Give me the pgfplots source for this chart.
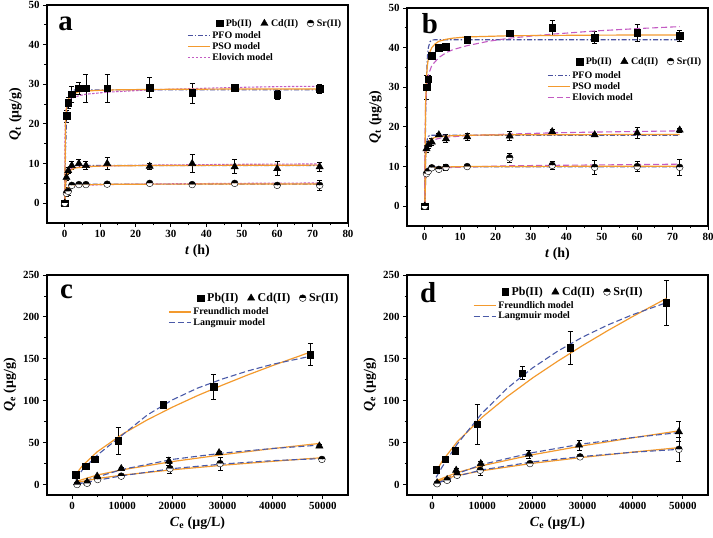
\documentclass[border=0pt]{standalone}
\usepackage{pgfplots}
\pgfplotsset{compat=1.18}
\usepackage{fontspec}
\setmainfont{Liberation Serif}
\usetikzlibrary{plotmarks}
\definecolor{pfo}{HTML}{4A52A0}
\definecolor{pso}{HTML}{F39A2E}
\definecolor{elo}{HTML}{C35BC3}
\definecolor{lang}{HTML}{4A5AA8}
\tikzset{plab/.style={font=\bfseries\fontsize{29}{29}\selectfont, inner sep=0pt}}
\pgfplotsset{
 base/.style={scale only axis, anchor=south west, width=301bp,
   axis line style={line width=1.1pt}, tick align=outside,
   xtick pos=bottom, ytick pos=left, minor tick num=1,
   major tick length=4bp, minor tick length=2.5bp,
   every tick/.style={black, line width=0.9pt},
   tick label style={font=\bfseries\fontsize{11}{11}\selectfont},
   /pgf/number format/assume math mode=true,
   /pgf/number format/1000 sep={}, scaled ticks=false,
   label style={font=\bfseries\fontsize{14}{14}\selectfont}},
 kin/.style={base, height=218bp, xmin=-5, xmax=80, ymin=-5, ymax=50,
   xtick={0,10,...,80}, ytick={0,10,...,50},
   xlabel={\textit{t} (h)}, ylabel={\textit{Q}\textsubscript{t} (μg/g)}},
 iso/.style={base, height=220bp, xmin=-5000, xmax=55000, ymin=-12.5, ymax=250,
   xtick={0,10000,...,50000}, ytick={0,50,...,250},
   xlabel={\textit{C}\textsubscript{e} (μg/L)}, ylabel={\textit{Q}\textsubscript{e} (μg/g)}},
 pts/.style={only marks, black, mark options={black, fill=black, solid},
   error bars/.cd, y dir=both, y explicit,
   error bar style={black, line width=0.7pt, solid},
   error mark options={rotate=90, black, mark size=2.5bp, line width=0.7pt}},
 pb/.style={mark=square*, mark size=3.3bp},
 cd/.style={mark=triangle*, mark size=4.2bp},
 sr/.style={mark=halfcircle*, mark size=3.4bp},
 cPFO/.style={pfo, line width=1.1pt, dash pattern=on 5bp off 2bp on 1.5bp off 2bp},
 cPSO/.style={pso, line width=1.2pt},
 cELOa/.style={elo, line width=1.1pt, dash pattern=on 2.5bp off 1.5bp},
 cELOb/.style={elo, line width=1.1pt, dash pattern=on 6bp off 3bp},
 cF/.style={pso, line width=1.2pt},
 cL/.style={lang, line width=1.1pt, dash pattern=on 6bp off 3bp},
 mleg/.style={legend columns=3, legend image code/.code={\draw[##1] plot coordinates {(3bp,0bp)};},
   legend style={draw=none, fill=none, inner sep=0pt,
     /tikz/every odd column/.append style={column sep=1bp},
     /tikz/every even column/.append style={column sep=7bp}}},
 lleg/.style={scale only axis, anchor=south west, width=301bp, hide axis,
   xmin=0, xmax=1, ymin=0, ymax=1, xtick=\empty, ytick=\empty,
   legend image code/.code={\draw[##1] (0bp,0bp)--(22bp,0bp);},
   legend cell align=left,
   legend style={draw=none, fill=none, inner sep=0pt, row sep=-1.5bp}}
}
\begin{document}
\begin{tikzpicture}
\path[use as bounding box] (0,0) rectangle (713bp,538bp);
% ================= a =================
\begin{axis}[kin, at={(47bp,315bp)}, mleg,
  legend style={at={(0.985,0.945)}, anchor=north east, font=\bfseries\fontsize{10}{10}\selectfont}]
\addlegendimage{only marks, black, pb}\addlegendentry{Pb(II)}
\addlegendimage{only marks, black, cd}\addlegendentry{Cd(II)}
\addlegendimage{only marks, black, sr}\addlegendentry{Sr(II)}
\addplot[forget plot, pb, pts] table[x=x,y=y,y error=e] {
x y e
0 0 0
0.5 22 1.5
1 25.3 1.5
2 27.5 2
4 29 1.5
6 29 3.5
12 29 3.5
24 29.2 2.5
36 27.8 2.5
48 29.2 0.8
60 27.3 1.2
72 28.9 1.2
};
\addplot[forget plot, cd, pts] table[x=x,y=y,y error=e] {
x y e
0 0 0
0.5 6.5 0.8
1 8.2 0.8
2 9.5 1
4 10 1
6 9.5 1
12 10 1.5
24 9.3 0.8
36 10 2.3
48 9.2 1.8
60 8.7 1.8
72 9.2 1.1
};
\addplot[forget plot, sr, pts] table[x=x,y=y,y error=e] {
x y e
0 0 0
0.5 2.5 0.8
1 3 1
2 4.5 0.5
4 4.7 0.4
6 4.7 0.4
12 4.8 0.4
24 5 0.4
36 4.7 0.4
48 5 0.5
60 4.5 0.6
72 4.5 1.2
};
% Pb curves
\addplot[forget plot, cPFO] coordinates {(0,0)(0.25,13.3)(0.5,20.4)(0.75,24.2)(1,26.3)(1.5,27.9)(2,28.4)(3,28.6)(10,28.6)(40,28.6)(72,28.6)};
\addplot[forget plot, cELOa] coordinates {(0,0)(0.1,18)(0.25,22.5)(0.5,24.4)(1,25.8)(2,26.5)(4,27.1)(6,27.5)(12,28.0)(24,28.6)(36,28.9)(48,29.2)(60,29.4)(72,29.5)};
\addplot[forget plot, cPSO] coordinates {(0,0)(0.25,20.6)(0.5,24)(1,26.2)(2,27.4)(4,28.1)(6,28.3)(12,28.56)(24,28.7)(48,28.8)(72,28.8)};
% Cd curves
\addplot[forget plot, cPFO] coordinates {(0,0)(0.25,3.7)(0.5,6.0)(0.75,7.4)(1,8.2)(1.5,9.0)(2,9.3)(3,9.5)(20,9.5)(72,9.5)};
\addplot[forget plot, cELOa] coordinates {(0,0)(0.1,4)(0.25,6)(0.5,7.5)(1,8.3)(2,8.8)(4,9.1)(6,9.2)(12,9.4)(24,9.6)(48,9.8)(72,9.9)};
\addplot[forget plot, cPSO] coordinates {(0,0)(0.25,4.8)(0.5,6.4)(0.75,7.2)(1,7.7)(1.5,8.2)(2,8.5)(3,8.9)(4,9.0)(6,9.2)(8,9.3)(12,9.4)(24,9.5)(72,9.6)};
% Sr curves
\addplot[forget plot, cPFO] coordinates {(0,0)(0.25,1.9)(0.5,3.0)(0.75,3.7)(1,4.15)(1.5,4.56)(2,4.71)(3,4.8)(20,4.8)(72,4.8)};
\addplot[forget plot, cELOa] coordinates {(0,0)(0.1,1.8)(0.25,2.8)(0.5,3.5)(1,3.9)(2,4.2)(4,4.4)(6,4.5)(12,4.7)(24,4.85)(48,5.0)(72,5.1)};
\addplot[forget plot, cPSO] coordinates {(0,0)(0.25,2.4)(0.5,3.2)(0.75,3.6)(1,3.9)(1.5,4.2)(2,4.3)(3,4.5)(4,4.55)(6,4.65)(12,4.75)(24,4.8)(72,4.85)};
\node[plab, anchor=base west] at (rel axis cs:0.037,0.885) {a};
\end{axis}
\begin{axis}[lleg, height=218bp, at={(47bp,315bp)},
  legend style={at={(0.465,0.888)}, anchor=north west, font=\bfseries\fontsize{10}{10}\selectfont}]
\addlegendimage{cPFO}\addlegendentry{PFO model}
\addlegendimage{cPSO}\addlegendentry{PSO model}
\addlegendimage{cELOa}\addlegendentry{Elovich model}
\end{axis}
% ================= b =================
\begin{axis}[kin, at={(407bp,312bp)}, mleg,
  legend style={at={(0.985,0.784)}, anchor=north east, font=\bfseries\fontsize{10}{10}\selectfont}]
\addlegendimage{only marks, black, pb}\addlegendentry{Pb(II)}
\addlegendimage{only marks, black, cd}\addlegendentry{Cd(II)}
\addlegendimage{only marks, black, sr}\addlegendentry{Sr(II)}
\addplot[forget plot, pb, pts] table[x=x,y=y,y error=e] {
x y e
0 0 0
0.5 30 3
1 32 1
2 38 0.5
4 40 0.5
6 40.2 0.5
12 42 0.8
24 43.6 0.8
36 45 2
48 42.5 1.5
60 43.8 2.2
72 43 1.3
};
\addplot[forget plot, cd, pts] table[x=x,y=y,y error=e] {
x y e
0 0 0
0.5 14.5 0.8
1 15.5 0.8
2 16.2 0.8
4 18 0.5
6 17 1
12 17.5 1
24 17.7 1.2
36 18.8 0.5
48 18 0.5
60 18.5 1.5
72 19.2 0.5
};
\addplot[forget plot, sr, pts] table[x=x,y=y,y error=e] {
x y e
0 0 0
0.5 8.2 0.5
1 8.8 0.5
2 9.7 0.5
4 9.3 0.5
6 9.8 0.7
12 10 0.5
24 12.2 1.2
36 10.3 1
48 9.8 1.8
60 10 1.2
72 9.8 2
};
\addplot[forget plot, cPFO] coordinates {(0,0)(0.25,22.2)(0.5,32.6)(0.75,37.6)(1,39.9)(1.5,41.5)(2,41.9)(3,42)(20,42)(72,42)};
\addplot[forget plot, cELOb] coordinates {(0,0)(0.1,18)(0.25,25)(0.5,29)(1,33)(2,35.5)(4,37.5)(6,38.7)(8,39.5)(12,40.5)(18,41.6)(24,42.4)(36,43.4)(48,44.2)(60,44.8)(72,45.3)};
\addplot[forget plot, cPSO] coordinates {(0,0)(0.25,26)(0.5,32.5)(0.75,35.4)(1,37.1)(1.5,39)(2,40)(3,41)(4,41.6)(6,42.1)(8,42.4)(12,42.7)(24,43.0)(48,43.15)(72,43.2)};
\addplot[forget plot, cPFO] coordinates {(0,0)(0.25,11.3)(0.5,15.5)(0.75,17)(1,17.6)(1.5,17.9)(20,17.9)(72,17.9)};
\addplot[forget plot, cELOb] coordinates {(0,0)(0.1,10)(0.25,13.5)(0.5,15)(1,16)(2,16.6)(4,17.1)(6,17.4)(12,17.8)(24,18.2)(36,18.5)(48,18.7)(60,18.85)(72,19)};
\addplot[forget plot, cPSO] coordinates {(0,0)(0.25,12.1)(0.5,14.5)(0.75,15.5)(1,16.1)(1.5,16.7)(2,17.0)(3,17.4)(4,17.55)(6,17.7)(12,17.9)(24,18.0)(72,18.1)};
\addplot[forget plot, cPFO] coordinates {(0,0)(0.25,6.3)(0.5,8.6)(0.75,9.4)(1,9.7)(1.5,9.9)(20,9.9)(72,9.9)};
\addplot[forget plot, cELOb] coordinates {(0,0)(0.1,5.5)(0.25,7.3)(0.5,8.2)(1,8.8)(2,9.2)(4,9.5)(6,9.7)(12,9.9)(24,10.2)(48,10.4)(72,10.6)};
\addplot[forget plot, cPSO] coordinates {(0,0)(0.25,6.7)(0.5,8.1)(0.75,8.7)(1,9.0)(1.5,9.3)(2,9.5)(3,9.7)(4,9.8)(6,9.9)(12,10.0)(72,10.1)};
\node[plab, anchor=base west] at (rel axis cs:0.049,0.885) {b};
\end{axis}
\begin{axis}[lleg, height=218bp, at={(407bp,312bp)},
  legend style={at={(0.465,0.718)}, anchor=north west, font=\bfseries\fontsize{10}{10}\selectfont}]
\addlegendimage{cPFO}\addlegendentry{PFO model}
\addlegendimage{cPSO}\addlegendentry{PSO model}
\addlegendimage{cELOb}\addlegendentry{Elovich model}
\end{axis}
% ================= c =================
\begin{axis}[iso, at={(47bp,43bp)}, mleg,
  legend style={at={(0.975,0.927)}, anchor=north east, font=\bfseries\fontsize{12}{12}\selectfont}]
\addlegendimage{only marks, black, pb}\addlegendentry{Pb(II)}
\addlegendimage{only marks, black, cd}\addlegendentry{Cd(II)}
\addlegendimage{only marks, black, sr}\addlegendentry{Sr(II)}
\addplot[forget plot, pb, pts] table[x=x,y=y,y error=e] {
x y e
700 12 1
2700 22 1.5
4500 30 1.5
9200 52 16
18200 95 2
28200 117 15
47500 155 13
};
\addplot[forget plot, cd, pts] table[x=x,y=y,y error=e] {
x y e
1000 2 0.8
3000 3 0.8
5000 10 1.5
9800 19 2
19300 28 5
29300 38 2
49300 46 2
};
\addplot[forget plot, sr, pts] table[x=x,y=y,y error=e] {
x y e
1000 0 0.5
3000 1.5 0.5
5100 6 1
9800 10 1.5
19500 19 6
29500 25 8
49800 30 2
};
\addplot[forget plot, cF] coordinates {(700,11.5)(2000,22.1)(5000,39)(10000,60)(15000,77.2)(20000,92.3)(25000,106.1)(30000,118.7)(35000,130.7)(40000,142)(47500,158)};
\addplot[forget plot, cL] coordinates {(700,6.2)(2000,17)(5000,35)(10000,59)(15000,83)(20000,101)(25000,115)(30000,126)(35000,135.5)(40000,143.5)(47500,153)};
\addplot[forget plot, cF] coordinates {(1000,4)(5000,11.3)(10000,17.6)(20000,27.4)(30000,35.6)(40000,42.9)(49300,49)};
\addplot[forget plot, cL] coordinates {(1000,1.5)(5000,9)(10000,18)(20000,30)(30000,37.5)(40000,43)(49300,47)};
\addplot[forget plot, cF] coordinates {(1000,2.5)(5000,7.1)(10000,11.2)(20000,17.6)(30000,23)(40000,27.7)(49800,32)};
\addplot[forget plot, cL] coordinates {(1000,0.5)(5000,5)(10000,10.5)(20000,19)(30000,24.5)(40000,28.5)(49800,31)};
\node[plab, anchor=base west] at (rel axis cs:0.043,0.895) {c};
\end{axis}
\begin{axis}[lleg, height=220bp, at={(47bp,43bp)},
  legend style={at={(0.402,0.861)}, anchor=north west, font=\bfseries\fontsize{10}{10}\selectfont}]
\addlegendimage{cF}\addlegendentry{Freundlich model}
\addlegendimage{cL}\addlegendentry{Langmuir model}
\end{axis}
% ================= d =================
\begin{axis}[iso, at={(407bp,43bp)}, mleg,
  legend style={at={(0.79,0.955)}, anchor=north east, font=\bfseries\fontsize{12}{12}\selectfont}]
\addlegendimage{only marks, black, pb}\addlegendentry{Pb(II)}
\addlegendimage{only marks, black, cd}\addlegendentry{Cd(II)}
\addlegendimage{only marks, black, sr}\addlegendentry{Sr(II)}
\addplot[forget plot, pb, pts] table[x=x,y=y,y error=e] {
x y e
800 18 2
2600 30 1.5
4600 40 1.5
9000 72 24
18000 133 8
27500 163 20
46700 217 27
};
\addplot[forget plot, cd, pts] table[x=x,y=y,y error=e] {
x y e
1000 2 0.8
3000 6 1
4800 17 2
9700 25 3
19300 36 5
29300 47 6
49200 63 12
};
\addplot[forget plot, sr, pts] table[x=x,y=y,y error=e] {
x y e
1000 1 0.5
3000 5 1
5000 11 1.5
9600 17 6
19500 25 2
29500 33 2
49200 42 14
};
\addplot[forget plot, cF] coordinates {(800,15.2)(2000,27.8)(5000,50.9)(10000,80.4)(15000,105)(20000,127)(25000,147)(30000,165.8)(35000,183.6)(40000,200.5)(46700,222)};
\addplot[forget plot, cL] coordinates {(800,8.6)(2000,20.9)(5000,48.2)(10000,85.4)(15000,115)(20000,139)(25000,159)(30000,175.9)(35000,190.3)(40000,202.7)(46700,217)};
\addplot[forget plot, cF] coordinates {(1000,5)(5000,14.3)(10000,22.5)(20000,35.5)(30000,46.2)(40000,55.8)(49200,64)};
\addplot[forget plot, cL] coordinates {(1000,2)(5000,13)(10000,24)(20000,38)(30000,48.5)(40000,56)(49200,62)};
\addplot[forget plot, cF] coordinates {(1000,4)(5000,10.8)(10000,16.5)(20000,25.3)(30000,32.4)(40000,38.7)(49200,44)};
\addplot[forget plot, cL] coordinates {(1000,1.5)(5000,10)(10000,17.5)(20000,27)(30000,33.5)(40000,38.5)(49200,42)};
\node[plab, anchor=base west] at (rel axis cs:0.043,0.873) {d};
\end{axis}
\begin{axis}[lleg, height=220bp, at={(407bp,43bp)},
  legend style={at={(0.219,0.891)}, anchor=north west, font=\bfseries\fontsize{10}{10}\selectfont}]
\addlegendimage{cF}\addlegendentry{Freundlich model}
\addlegendimage{cL}\addlegendentry{Langmuir model}
\end{axis}
\end{tikzpicture}
\end{document}
